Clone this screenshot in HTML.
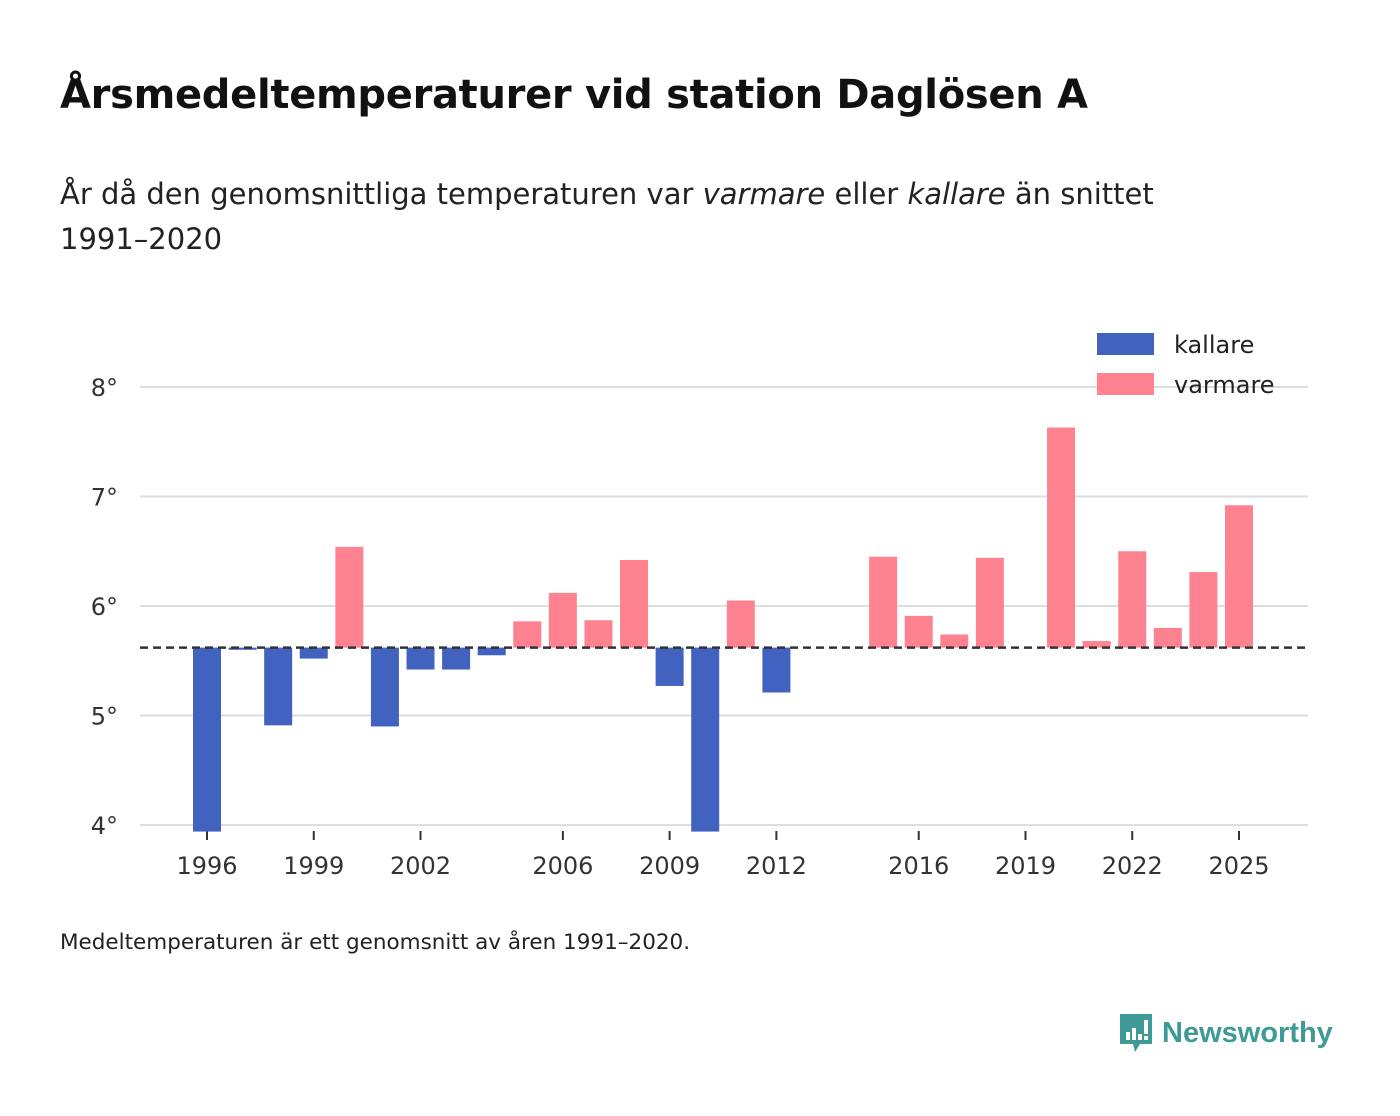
<!DOCTYPE html>
<html><head><meta charset="utf-8">
<style>
body{margin:0;width:1400px;height:1116px;background:#fff;font-family:"DejaVu Sans","Liberation Sans",sans-serif;color:#111;overflow:hidden;position:relative}
h1{position:absolute;left:60px;top:72px;margin:0;font-size:40px;font-weight:bold;letter-spacing:-0.3px}
.sub{position:absolute;left:60px;top:172px;margin:0;font-size:29px;line-height:45px;color:#222;width:1180px}
.note{position:absolute;left:60px;top:930px;font-size:21.5px;color:#222}
.logo{position:absolute;left:1118px;top:1012px;display:flex;align-items:center}
.logo span{font-size:29px;font-weight:bold;color:#3d9a94;margin-left:8px;font-family:"Liberation Sans",sans-serif}
svg text{font-family:"DejaVu Sans","Liberation Sans",sans-serif}
</style></head><body>
<h1>Årsmedeltemperaturer vid station Daglösen A</h1>
<p class="sub">År då den genomsnittliga temperaturen var <i>varmare</i> eller <i>kallare</i> än snittet 1991–2020</p>
<svg id="chart" width="1400" height="1116" style="position:absolute;left:0;top:0"></svg>
<div class="note">Medeltemperaturen är ett genomsnitt av åren 1991–2020.</div>
<div class="logo">
<svg width="36" height="42" viewBox="0 0 36 42"><path d="M2 2h32v30H22l-5 8-2-8H2z" fill="#3d9a94"/><rect x="8" y="20" width="4" height="8" fill="#fff"/><rect x="14" y="16" width="4" height="12" fill="#fff"/><rect x="20" y="22" width="4" height="6" fill="#fff"/><rect x="26" y="8" width="4" height="14" fill="#fff"/><rect x="26" y="24" width="4" height="4" fill="#fff"/></svg>
<span>Newsworthy</span></div>
<script>
const years=[1996,1997,1998,1999,2000,2001,2002,2003,2004,2005,2006,2007,2008,2009,2010,2011,2012,2013,2014,2015,2016,2017,2018,2019,2020,2021,2022,2023,2024,2025];
const temps=[3.94,5.60,4.91,5.52,6.54,4.90,5.42,5.42,5.55,5.86,6.12,5.87,6.42,5.27,3.94,6.05,5.21,null,null,6.45,5.91,5.74,6.44,null,7.63,5.68,6.50,5.80,6.31,6.92];
const baseline=5.62;
const yTicks=[4,5,6,7,8];
const xTicks=[1996,1999,2002,2006,2009,2012,2016,2019,2022,2025];
const svg=document.getElementById('chart');
const NS='http://www.w3.org/2000/svg';
const x=yr=>207+(yr-1996)*(1239-207)/29;
const y=v=>825-(v-4)*109.5;
function mk(t,a){const e=document.createElementNS(NS,t);for(const k in a)e.setAttribute(k,a[k]);svg.appendChild(e);return e;}
yTicks.forEach(t=>{
 const l=mk('line',{x1:140,x2:1308,y1:y(t),y2:y(t),stroke:'#ddd','stroke-width':2});
 
 
 const tx=mk('text',{x:118,y:y(t)+9,'text-anchor':'end','font-size':24,fill:'#333'});tx.textContent=t+'°';
 
 
});
xTicks.forEach(t=>{
 const l=mk('line',{x1:x(t),x2:x(t),y1:831,y2:840,stroke:'#333','stroke-width':2});
 
 
 const tx=mk('text',{x:x(t),y:874,'text-anchor':'middle','font-size':24,fill:'#333'});tx.textContent=t;
 
 
});
years.forEach((yr,i)=>{
 const v=temps[i];if(v===null)return;
 const top=Math.min(y(v),y(baseline)),bot=Math.max(y(v),y(baseline));
 const r=mk('rect',{x:x(yr)-14,y:top,width:28,height:bot-top,fill:v>=baseline?'#ff8290':'#4262bf'});
 
 
});
const bl=mk('line',{x1:140,x2:1308,y1:y(baseline),y2:y(baseline),stroke:'#333','stroke-width':2.5,'stroke-dasharray':'8,5'});


[['kallare','#4262bf',344],['varmare','#ff8290',384]].forEach(([n,c,cy])=>{
 const r=mk('rect',{x:1097,y:cy-11,width:57,height:22,fill:c});
 
 
 const t=mk('text',{x:1174,y:cy+9,'font-size':24,fill:'#222'});t.textContent=n;
 
 
});
</script>
</body></html>
